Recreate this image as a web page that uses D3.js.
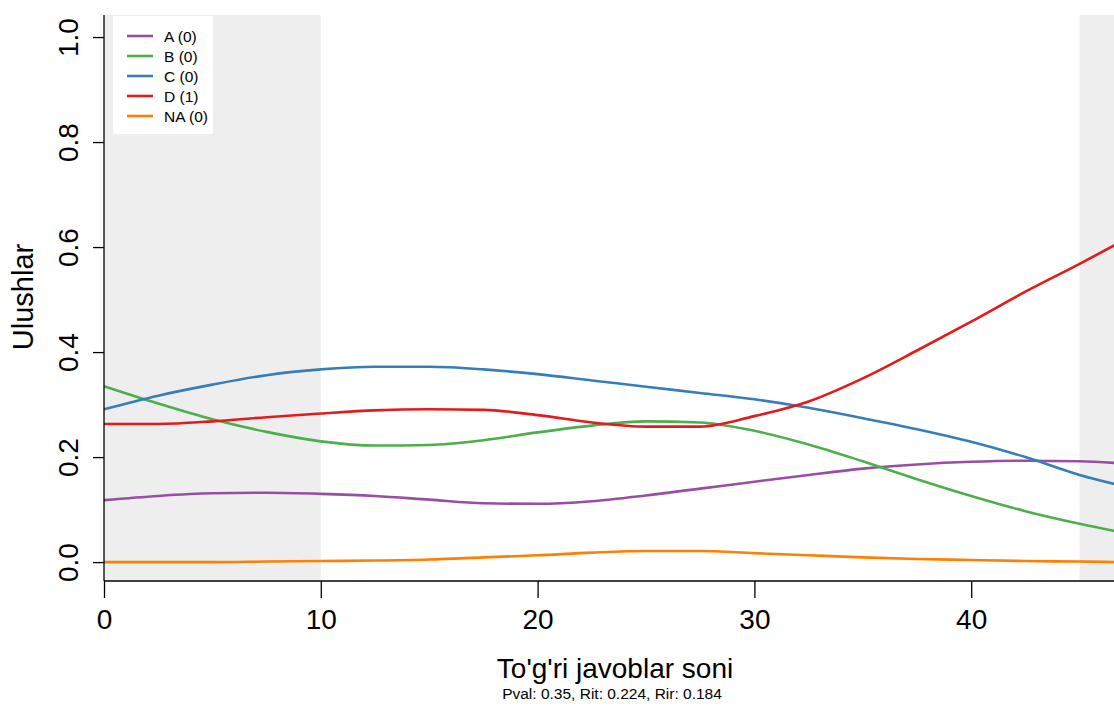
<!DOCTYPE html>
<html><head><meta charset="utf-8">
<script src="https://cdn.jsdelivr.net/npm/d3@7"></script>
<style>body{margin:0;background:#fff}svg{display:block}text{font-family:"Liberation Sans",Arial,sans-serif}</style>
</head><body><svg id="c" width="1114" height="708"></svg>
<script>
const xs = [0,2.5,5,7.5,10,12.5,15,17.5,20,22.5,25,27.5,30,32.5,35,37.5,40,42.5,45,47];
const seriesNames = ["A (0)","B (0)","C (0)","D (1)","NA (0)"];
const colors = ["#984EA3","#4DAF4A","#377EB8","#E41A1C","#FF7F00"];
const valsA = [0.118,0.126,0.131,0.132,0.130,0.126,0.119,0.112,0.111,0.116,0.127,0.140,0.153,0.166,0.178,0.186,0.191,0.193,0.192,0.188];
const valsB = [0.335,0.302,0.272,0.248,0.230,0.222,0.223,0.232,0.247,0.260,0.268,0.266,0.250,0.224,0.192,0.158,0.126,0.097,0.073,0.056];
const valsC = [0.291,0.317,0.338,0.356,0.367,0.372,0.372,0.367,0.358,0.346,0.334,0.322,0.310,0.294,0.274,0.253,0.229,0.200,0.166,0.145];
const valsD = [0.263,0.263,0.268,0.276,0.283,0.289,0.291,0.290,0.280,0.266,0.258,0.258,0.278,0.306,0.350,0.403,0.458,0.515,0.568,0.612];
const valsNA = [0.000,0.000,0.000,0.001,0.002,0.003,0.005,0.009,0.013,0.018,0.021,0.021,0.017,0.013,0.009,0.006,0.004,0.002,0.001,0.000];
const xTicks = [0,10,20,30,40];
const yTicks = [0,0.2,0.4,0.6,0.8,1.0];
const shadeBands = [[0,10],[45,47]];
const xLabel = "To'g'ri javoblar soni";
const yLabel = "Ulushlar";
const subtitle = "Pval: 0.35, Rit: 0.224, Rir: 0.184";

const allVals = [valsA,valsB,valsC,valsD,valsNA];
const svg = d3.select("#c");
const x = d3.scaleLinear().domain([0,47]).range([104,104+47*21.68]);
const y = d3.scaleLinear().domain([-0.036,1.042]).range([581,15]);
const plotTop = 15, plotBot = 581;

// shading
svg.selectAll("rect.shade").data(shadeBands).enter().append("rect")
  .attr("x",d=>x(d[0])).attr("width",d=>x(d[1])-x(d[0]))
  .attr("y",plotTop).attr("height",plotBot-plotTop).attr("fill","#eeeeee");

// lines
const line = d3.line().x((d,i)=>x(xs[i])).y(d=>y(d)).curve(d3.curveMonotoneX);
allVals.forEach((v,k)=>{
  svg.append("path").attr("d",line(v)).attr("fill","none")
    .attr("stroke",colors[k]).attr("stroke-width",2.6);
});

// x axis
const xa = svg.append("g").attr("transform",`translate(0,${plotBot})`)
  .call(d3.axisBottom(x).tickValues(xTicks).tickFormat(d3.format("d")).tickSize(17));
xa.select(".domain").attr("d",`M104,0H1114`).attr("stroke","#000").attr("stroke-width",1.3);
xa.selectAll(".tick line").attr("stroke","#000").attr("stroke-width",1.3);
xa.selectAll(".tick text").attr("font-size",28).attr("fill","#000").attr("y",48).attr("dy",null);

// y axis
const ya = svg.append("g").attr("transform",`translate(104,0)`)
  .call(d3.axisLeft(y).tickValues(yTicks).tickFormat(d3.format(".1f")).tickSize(11));
ya.select(".domain").attr("d",`M0,${plotTop}V${plotBot}`).attr("stroke","#000").attr("stroke-width",1.3);
ya.selectAll(".tick line").attr("stroke","#000").attr("stroke-width",1.3);
ya.selectAll(".tick text").attr("font-size",28).attr("fill","#000")
  .attr("x",null).attr("dy",null)
  .attr("text-anchor","middle")
  .attr("transform","translate(-26,0) rotate(-90)");

// labels
svg.append("text").attr("transform","translate(33,297) rotate(-90)")
  .attr("text-anchor","middle").attr("font-size",29).text(yLabel);
svg.append("text").attr("x",615).attr("y",678).attr("text-anchor","middle").attr("font-size",28).text(xLabel);
svg.append("text").attr("x",612).attr("y",699).attr("text-anchor","middle").attr("font-size",15.5).text(subtitle);

// legend
svg.append("rect").attr("x",113).attr("y",16).attr("width",100).attr("height",118).attr("fill","#fff");
seriesNames.forEach((n,i)=>{
  const yy = 36 + i*20;
  svg.append("line").attr("x1",127).attr("x2",153).attr("y1",yy).attr("y2",yy)
    .attr("stroke",colors[i]).attr("stroke-width",2.6);
  svg.append("text").attr("x",164).attr("y",yy+6).attr("font-size",15.5).text(n);
});
</script></body></html>
